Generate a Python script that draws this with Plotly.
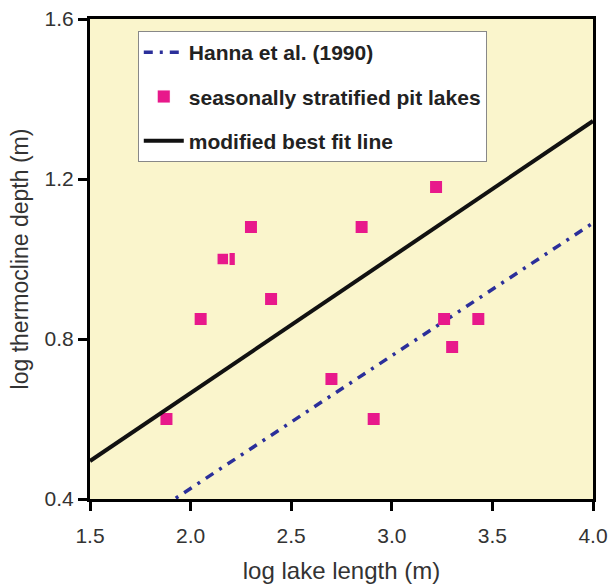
import plotly.graph_objects as go

# Data
lake_x = [1.88, 2.05, 2.19, 2.16, 2.30, 2.40, 2.70, 2.85, 2.91, 3.22, 3.26, 3.30, 3.43]
lake_y = [0.60, 0.85, 1.00, 1.00, 1.08, 0.90, 0.70, 1.08, 0.60, 1.18, 0.85, 0.78, 0.85]
fit_x = [1.5, 4.0]
fit_y = [0.495, 1.345]
hanna_x = [1.86, 4.0]
hanna_y = [0.38, 1.09]

FONT = "Liberation Sans, Arial, sans-serif"
PINK = "#E8198B"

line_colors = [PINK] * len(lake_x)
line_widths = [0] * len(lake_x)
line_colors[3] = "#FAF5CC"
line_widths[3] = 1.5

fig = go.Figure()
fig.add_trace(go.Scatter(
    x=hanna_x, y=hanna_y, mode="lines", name="Hanna et al. (1990)",
    line=dict(color="#2B2F9A", width=3.5, dash="9px,7px,3px,7px"),
    legendgroup="a"))
fig.add_trace(go.Scatter(
    x=lake_x, y=lake_y, mode="markers", name="seasonally stratified pit lakes",
    marker=dict(symbol="square", size=12, color=PINK,
                line=dict(color=line_colors, width=line_widths)),
    legendgroup="b"))
fig.add_trace(go.Scatter(
    x=fit_x, y=fit_y, mode="lines", name="modified best fit line",
    line=dict(color="#111111", width=4),
    legendgroup="c"))

axis_common = dict(
    showgrid=False, zeroline=False, showline=True, linecolor="black", linewidth=3,
    mirror=True, ticks="outside", ticklen=9, tickwidth=3, tickcolor="black",
    tickfont=dict(family=FONT, size=21, color="#333333"),
    tickformat=".1f", automargin=False,
)

fig.update_layout(
    width=608, height=585,
    margin=dict(l=90, r=15, t=19, b=86),
    paper_bgcolor="white", plot_bgcolor="#FAF5CC",
    font=dict(family=FONT, color="#333333"),
    showlegend=True,
    legend=dict(
        x=0.095, y=0.975, xanchor="left", yanchor="top",
        bgcolor="white", bordercolor="#888888", borderwidth=1,
        font=dict(family=FONT, size=21, color="#222222", weight="bold"),
        tracegroupgap=14, itemwidth=40,
    ),
    xaxis=dict(range=[1.5, 4.0], dtick=0.5, tick0=1.5, ticklabelstandoff=7,
               title=dict(text="log lake length (m)", font=dict(family=FONT, size=24, color="#333333"), standoff=16),
               **axis_common),
    yaxis=dict(range=[0.4, 1.6], dtick=0.4, tick0=0.4,
               title=dict(text="log thermocline depth (m)", font=dict(family=FONT, size=23, color="#333333"), standoff=10),
               **axis_common),
)

fig.write_html("out.html")
